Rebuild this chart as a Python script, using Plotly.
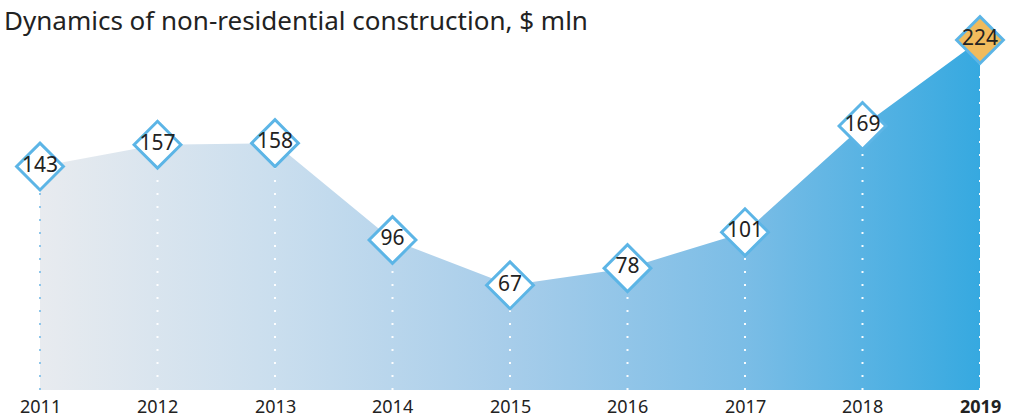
import plotly.graph_objects as go

years = [2011, 2012, 2013, 2014, 2015, 2016, 2017, 2018, 2019]
values = [143, 157, 158, 96, 67, 78, 101, 169, 224]
year_labels = ["2011", "2012", "2013", "2014", "2015", "2016", "2017", "2018", "<b>2019</b>"]
title_text = "Dynamics of non-residential construction, $ mln"

FONT = "Noto Sans"
BORDER = "#5cb5e6"

fig = go.Figure()

# gradient area
fig.add_trace(go.Scatter(
    x=years, y=values, mode="lines", line=dict(width=0, color="rgba(0,0,0,0)"),
    fill="tozeroy",
    fillgradient=dict(type="horizontal", colorscale=[
        [0.0, "#e8ebef"], [0.25, "#cadeee"], [0.5, "#a7cdea"],
        [0.75, "#7bbde6"], [1.0, "#36a9e0"]]),
    hoverinfo="skip", showlegend=False,
))

# dotted drop lines
dx, dy = [], []
for x, v in zip(years, values):
    dx += [x, x, None]
    dy += [0, v, None]
fig.add_trace(go.Scatter(
    x=dx, y=dy, mode="lines",
    line=dict(color="rgba(255,255,255,0.95)", width=2, dash="2px,11px"),
    hoverinfo="skip", showlegend=False,
))
# blue dotted line on left edge (visible against white)
fig.add_trace(go.Scatter(
    x=[years[0], years[0]], y=[0, values[0]], mode="lines",
    line=dict(color="#8fc6ea", width=2, dash="2px,11px"),
    hoverinfo="skip", showlegend=False,
))

fills = ["white"] * (len(values) - 1) + ["#f0bb5c"]
fig.add_trace(go.Scatter(
    x=years, y=values, mode="markers+text",
    marker=dict(symbol="diamond", size=36, color=fills,
                line=dict(color=BORDER, width=3)),
    text=[str(v) for v in values], textposition="middle center",
    textfont=dict(family=FONT, size=21, color="#222222"),
    cliponaxis=False, hoverinfo="skip", showlegend=False,
))

fig.add_annotation(
    text=title_text, xref="paper", yref="paper", x=0.0, y=1.0,
    xanchor="left", yanchor="top", showarrow=False, yshift=0, xshift=2,
    font=dict(family=FONT, size=26, color="#222222"),
)

for yr, lab in zip(years, year_labels):
    fig.add_annotation(
        text=lab, x=yr, xref="x", yref="paper", y=0, yanchor="middle",
        yshift=-16, showarrow=False, borderpad=0,
        font=dict(family=FONT, size=18, color="#222222"),
    )

fig.update_layout(
    width=1016, height=419,
    margin=dict(l=0, r=0, t=0, b=29, autoexpand=False),
    paper_bgcolor="white", plot_bgcolor="white",
    xaxis=dict(range=[2011 - 40 / 117.5, 2019 + 36 / 117.5],
               showticklabels=False, automargin=False,
               showgrid=False, zeroline=False, showline=False, ticks="",
               fixedrange=True),
    yaxis=dict(range=[0, 224 * 390 / 350], visible=False, automargin=False,
               showgrid=False, zeroline=False, fixedrange=True),
)

fig.write_html(
    "out.html",
    config={"displayModeBar": False},
    post_script="document.body.style.margin='0';document.body.style.overflow='hidden';",
)
